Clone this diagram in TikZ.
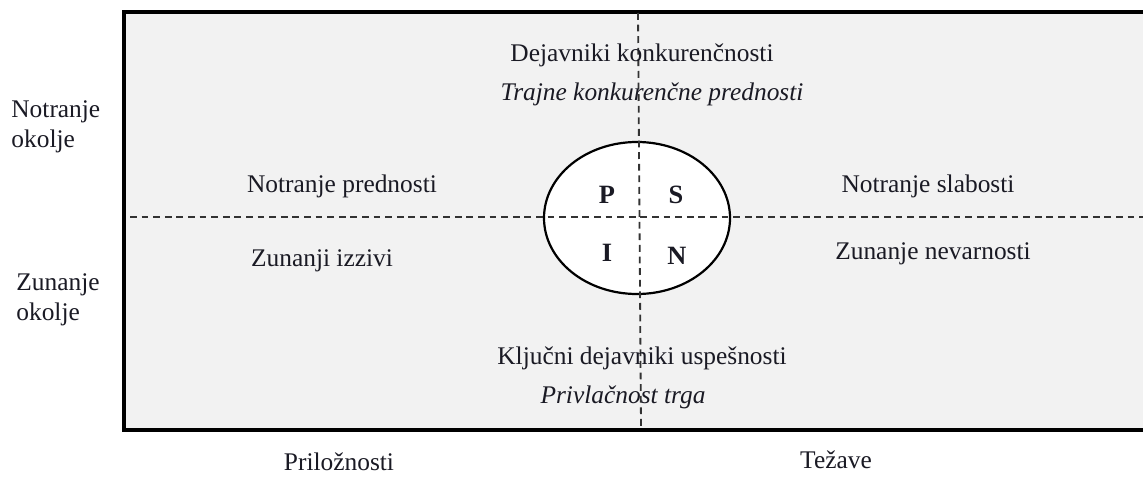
\documentclass[tikz,border=0pt]{standalone}
\usepackage{fontspec}
\setmainfont{Liberation Serif}
\usetikzlibrary{shapes.geometric}
\definecolor{panel}{HTML}{F2F2F2}
\definecolor{dashc}{HTML}{333333}
\definecolor{txt}{HTML}{1A1A24}
\tikzset{
  lbl/.style={font=\fontsize{12.7}{15}\selectfont, text=txt, inner sep=0pt},
  ilbl/.style={lbl, font=\fontsize{12.7}{15}\selectfont\itshape},
  side/.style={lbl, align=left, anchor=west},
  letter/.style={lbl, font=\fontsize{13.2}{15}\selectfont\bfseries},
  divider/.style={draw=dashc, line width=0.9pt, dash pattern=on 3.4pt off 2.4pt},
}
\begin{document}
\begin{tikzpicture}[x=0.5pt,y=-0.5pt]
\clip (0,0) rectangle (1143,476);
\fill[white] (0,0) rectangle (1143,476);
% panel
\draw[fill=panel, line width=1.6pt] (124,12) rectangle (1160,430);
% ellipse
\node[ellipse, draw, fill=white, line width=1.1pt, minimum width=93pt, minimum height=76pt, inner sep=0pt] (swot) at (637,218) {};
% dividers
\coordinate (hl) at (130,217);
\coordinate (hr) at (1143,217);
\coordinate (vt) at (638,13);
\coordinate (vb) at (641,429);
\draw[divider] (hl) -- (hr);
\draw[divider] (vt) -- (vb);
% letters
\node[letter] (P) at (607,195) {P};
\node[letter] (S) at (676,195) {S};
\node[letter] (I) at (607,253) {I};
\node[letter] (N) at (677,256) {N};
% quadrant texts
\node[lbl] (dk) at (642,55) {Dejavniki konkurenčnosti};
\node[ilbl] (tk) at (652,94) {Trajne konkurenčne prednosti};
\node[lbl] (np) at (342,186) {Notranje prednosti};
\node[lbl] (zi) at (322,261) {Zunanji izzivi};
\node[lbl] (ns) at (928,186) {Notranje slabosti};
\node[lbl] (zn) at (933,254) {Zunanje nevarnosti};
\node[lbl] (kd) at (642,358) {Ključni dejavniki uspešnosti};
\node[ilbl] (pt) at (623,397) {Privlačnost trga};
% outside labels
\node[side] (no) at (11,127) {Notranje\\okolje};
\node[side] (zo) at (16,300) {Zunanje\\okolje};
\node[lbl] (pr) at (339,462) {Priložnosti};
\node[lbl] (te) at (836,460) {Težave};
\end{tikzpicture}
\end{document}
